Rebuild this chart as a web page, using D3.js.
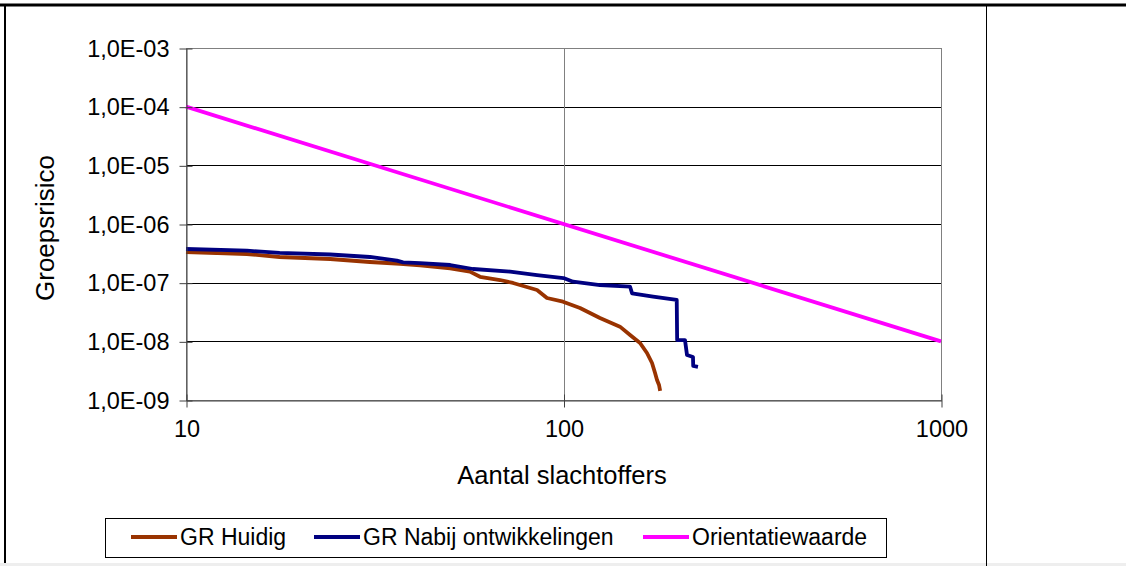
<!DOCTYPE html>
<html>
<head>
<meta charset="utf-8">
<script src="https://cdn.jsdelivr.net/npm/d3@7"></script>
<style>
  body { margin: 0; background: #fff; }
  svg { display: block; font-family: "Liberation Sans", Arial, sans-serif; }
</style>
</head>
<body>
<svg id="chart" width="1126" height="566"></svg>
<script>
// x = aantal slachtoffers (N), y = groepsrisico (frequentie)
var huidigN = [10, 14.5, 17.7, 24.1, 30.7, 36.9, 41.7, 50.1, 56.5, 60.1, 67.9, 73.5, 85.1, 90.4, 99.7, 110.6, 124.9, 141.1, 150.1, 159.5, 166.4, 171.6, 174.8, 176.9, 179.1, 180.3];
var huidigF = [3.33e-7, 3.08e-7, 2.74e-7, 2.53e-7, 2.25e-7, 2.1e-7, 1.98e-7, 1.76e-7, 1.54e-7, 1.26e-7, 1.11e-7, 9.88e-8, 7.5e-8, 5.48e-8, 4.74e-8, 3.7e-8, 2.5e-8, 1.78e-8, 1.28e-8, 9.38e-9, 6.33e-9, 4.27e-9, 2.89e-9, 2.19e-9, 1.8e-9, 1.43e-9];

var nabijN = [10, 14.5, 17.7, 24.1, 30.7, 36.2, 37.6, 41.7, 50.1, 57.6, 72.2, 85.1, 100, 106, 124.9, 150.1, 151.9, 172.7, 199.5, 200, 209.8, 212.4, 220.3, 220.6, 227.1];
var nabijF = [3.75e-7, 3.51e-7, 3.21e-7, 3.02e-7, 2.74e-7, 2.37e-7, 2.22e-7, 2.16e-7, 2.0e-7, 1.71e-7, 1.54e-7, 1.35e-7, 1.2e-7, 1.04e-7, 9.12e-8, 8.53e-8, 6.59e-8, 5.77e-8, 5.07e-8, 1.05e-8, 1.05e-8, 5.85e-9, 5.41e-9, 3.8e-9, 3.66e-9];

var orientatieN = [10, 1000];
var orientatieF = [1e-4, 1e-8];

var seriesNames = ["GR Huidig", "GR Nabij ontwikkelingen", "Orientatiewaarde"];
var seriesColors = ["#993300", "#000080", "#ff00ff"];

var xTicks = [10, 100, 1000];
var xTickLabels = ["10", "100", "1000"];
var yTicks = [1e-9, 1e-8, 1e-7, 1e-6, 1e-5, 1e-4, 1e-3];
var yTickLabels = ["1,0E-09", "1,0E-08", "1,0E-07", "1,0E-06", "1,0E-05", "1,0E-04", "1,0E-03"];

var svg = d3.select("#chart");

// omlijsting (tabelcel)
svg.append("rect").attr("x", 0).attr("y", 563).attr("width", 1126).attr("height", 3).attr("fill", "#eeeeee");
svg.append("line").attr("x1", 0).attr("x2", 1126).attr("y1", 5).attr("y2", 5).attr("stroke", "#000").attr("stroke-width", 3);
svg.append("line").attr("x1", 5).attr("x2", 5).attr("y1", 4).attr("y2", 563).attr("stroke", "#000").attr("stroke-width", 2);
svg.append("line").attr("x1", 986.5).attr("x2", 986.5).attr("y1", 4).attr("y2", 566).attr("stroke", "#000").attr("stroke-width", 1);

var x = d3.scaleLog().domain([10, 1000]).range([186, 941]);
var y = d3.scaleLog().domain([1e-9, 1e-3]).range([400, 48]);

var plot = svg.append("g");

// rasterlijnen
plot.selectAll("line.hgrid").data(yTicks.slice(1, -1)).enter().append("line")
    .attr("class", "hgrid")
    .attr("x1", x(10)).attr("x2", x(1000))
    .attr("y1", function(d) { return Math.round(y(d)) + 0.5; })
    .attr("y2", function(d) { return Math.round(y(d)) + 0.5; })
    .attr("stroke", "#000").attr("stroke-width", 1);

plot.append("line")
    .attr("x1", Math.round(x(100)) + 0.5).attr("x2", Math.round(x(100)) + 0.5)
    .attr("y1", y(1e-3)).attr("y2", y(1e-9))
    .attr("stroke", "#808080").attr("stroke-width", 1);

// kader plotgebied
plot.append("rect")
    .attr("x", x(10) + 0.5).attr("y", y(1e-3) + 0.5)
    .attr("width", x(1000) - x(10)).attr("height", y(1e-9) - y(1e-3))
    .attr("fill", "none").attr("stroke", "#808080").attr("stroke-width", 1);

// assen
var yAxis = d3.axisLeft(y).tickValues(yTicks)
    .tickFormat(function(d, i) { return yTickLabels[i]; })
    .tickSizeInner(7).tickSizeOuter(0).tickPadding(10);
var gy = svg.append("g").attr("transform", "translate(" + (x(10) + 0.5) + ",0.5)").call(yAxis);
gy.selectAll(".tick line").attr("x1", 6);
gy.select(".domain").attr("stroke", "#404040");
gy.selectAll(".tick line").attr("stroke", "#404040");
gy.selectAll("text").attr("font-size", 23.5).attr("fill", "#000")
    .attr("font-family", "Liberation Sans, Arial, sans-serif");

var xAxis = d3.axisBottom(x).tickValues(xTicks)
    .tickFormat(function(d, i) { return xTickLabels[i]; })
    .tickSizeInner(7).tickSizeOuter(0).tickPadding(13);
var gx = svg.append("g").attr("transform", "translate(0.5," + (y(1e-9) + 0.5) + ")").call(xAxis);
gx.selectAll(".tick line").attr("y1", -6);
gx.select(".domain").attr("stroke", "#404040");
gx.selectAll(".tick line").attr("stroke", "#404040");
gx.selectAll("text").attr("font-size", 23.5).attr("fill", "#000")
    .attr("font-family", "Liberation Sans, Arial, sans-serif");

// lijnen
var line = d3.line()
    .x(function(d) { return x(d[0]); })
    .y(function(d) { return y(d[1]); });

var series = [
    d3.zip(huidigN, huidigF),
    d3.zip(nabijN, nabijF),
    d3.zip(orientatieN, orientatieF)
];

plot.selectAll("path.serie").data(series).enter().append("path")
    .attr("class", "serie")
    .attr("d", line)
    .attr("fill", "none")
    .attr("stroke", function(d, i) { return seriesColors[i]; })
    .attr("stroke-width", 3.8)
    .attr("stroke-linejoin", "round");

// astitels
svg.append("text").attr("x", 562).attr("y", 484)
    .attr("text-anchor", "middle").attr("font-size", 25.5).text("Aantal slachtoffers");
svg.append("text").attr("transform", "translate(54,228) rotate(-90)")
    .attr("text-anchor", "middle").attr("font-size", 26).text("Groepsrisico");

// legenda
var legend = svg.append("g");
legend.append("rect").attr("x", 105.5).attr("y", 518.5).attr("width", 781).attr("height", 39)
    .attr("fill", "#fff").attr("stroke", "#000").attr("stroke-width", 1);

var legendX = [131, 314, 643];
var item = legend.selectAll("g.item").data(seriesNames).enter().append("g")
    .attr("class", "item")
    .attr("transform", function(d, i) { return "translate(" + legendX[i] + ",537)"; });
item.append("line").attr("x1", 0).attr("x2", 46).attr("y1", 0).attr("y2", 0)
    .attr("stroke", function(d, i) { return seriesColors[i]; }).attr("stroke-width", 3.8);
item.append("text").attr("x", 49).attr("y", 8).attr("font-size", 23).text(function(d) { return d; });
</script>
</body>
</html>
